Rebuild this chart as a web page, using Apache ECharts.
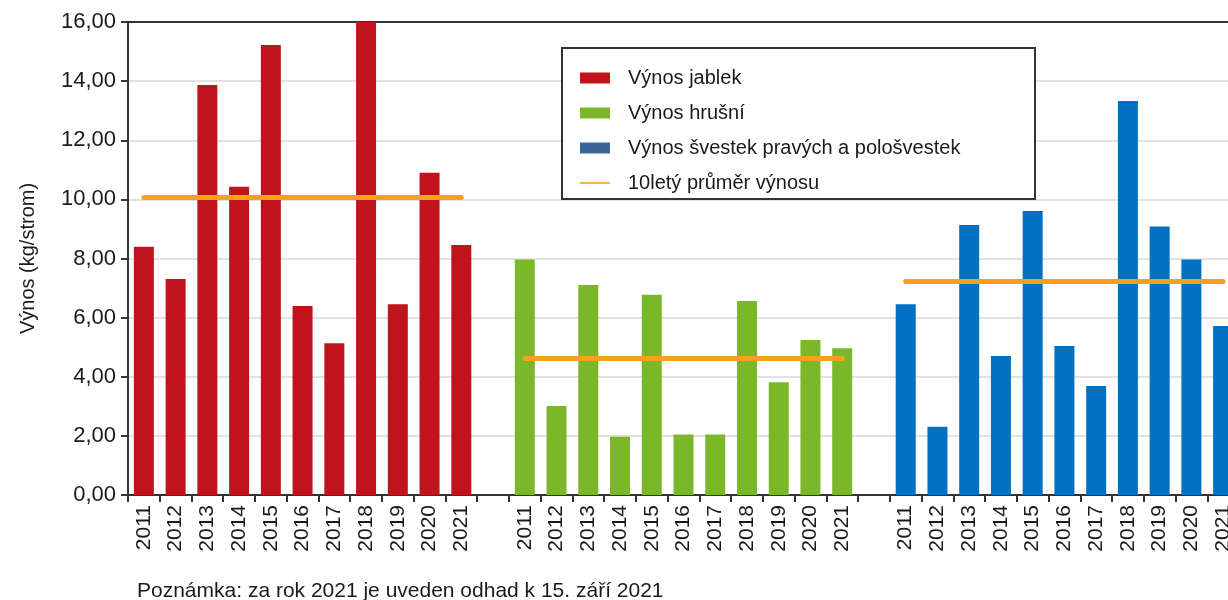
<!DOCTYPE html>
<html lang="cs">
<head>
    <meta charset="UTF-8">
    <title>Výnos ovoce</title>
    <script src="https://cdn.jsdelivr.net/npm/echarts@6/dist/echarts.min.js"></script>
    <style>
        html, body { margin: 0; padding: 0; background: #fff; }
        #chart { width: 1228px; height: 600px; }
    </style>
</head>
<body>
<div id="chart"></div>

<script>
    // roky a hodnoty (kg/strom)
    var years = ['2011', '2012', '2013', '2014', '2015', '2016', '2017', '2018', '2019', '2020', '2021'];
    var apples = [8.40, 7.31, 13.87, 10.43, 15.22, 6.39, 5.13, 16.00, 6.45, 10.90, 8.46];
    var pears = [7.97, 3.01, 7.10, 1.97, 6.77, 2.05, 2.05, 6.56, 3.81, 5.24, 4.96];
    var plums = [6.45, 2.31, 9.13, 4.70, 9.61, 5.04, 3.69, 13.33, 9.08, 7.97, 5.72];
    var avgApples = 10.06;
    var avgPears = 4.62;
    var avgPlums = 7.22;
    var yTicks = [0, 2, 4, 6, 8, 10, 12, 14, 16];

    var font = '"Liberation Sans", Arial, sans-serif';

    // tri skupiny po 11 letech, mezi nimi prazdna kategorie
    var categories = years.concat(['']).concat(years).concat(['']).concat(years);
    var n = years.length;

    function place(values, group) {
        var out = [];
        for (var i = 0; i < categories.length; i++) out.push(null);
        for (var j = 0; j < values.length; j++) out[group * (n + 1) + j] = values[j];
        return out;
    }
    function flat(v) {
        var arr = [];
        for (var j = 0; j < n; j++) arr.push(v);
        return arr;
    }

    var myChart = echarts.init(document.getElementById('chart'));

    var avgName = '10letý průměr výnosu';
    var avgLine = function (v, g) {
        return {
            name: avgName,
            type: 'line',
            data: place(flat(v), g),
            symbol: 'none',
            connectNulls: false,
            z: 5,
            color: '#F7A01C',
            lineStyle: { color: '#F7A01C', width: 5, cap: 'round' },
            animation: false
        };
    };

    var option = {
        animation: false,
        title: {
            text: 'Poznámka: za rok 2021 je uveden odhad k 15. září 2021',
            left: 132,
            top: 576,
            textStyle: { fontFamily: font, fontSize: 21, fontWeight: 'normal', color: '#1a1a1a' }
        },
        graphic: [{
            type: 'rect',
            z: 3,
            shape: { x: 562, y: 48, width: 473, height: 151 },
            style: { fill: '#fff', stroke: '#333', lineWidth: 2 }
        }],
        legend: {
            orient: 'vertical',
            left: 575,
            top: 63,
            z: 6,
            itemWidth: 30,
            itemHeight: 11,
            itemGap: 15,
            selectedMode: false,
            textStyle: { fontFamily: font, fontSize: 20, color: '#1a1a1a', padding: [0, 0, 0, 13] },
            data: [
                { name: 'Výnos jablek', icon: 'rect', itemStyle: { color: '#C0141C' } },
                { name: 'Výnos hrušní', icon: 'rect', itemStyle: { color: '#7AB829' } },
                { name: 'Výnos švestek pravých a pološvestek', icon: 'rect', itemStyle: { color: '#3A6496' } },
                { name: avgName, icon: 'path://M0,0H30V2H0Z', itemStyle: { color: '#FFB347' } }
            ]
        },
        grid: {
            left: 128,
            width: 1111,
            top: 22,
            height: 473,
            outerBoundsMode: 'none',
            containLabel: false,
            show: true,
            borderColor: '#333',
            borderWidth: 2
        },
        xAxis: {
            type: 'category',
            data: categories,
            axisLine: { lineStyle: { color: '#333', width: 2 } },
            axisTick: { show: true, interval: 0, length: 7, lineStyle: { color: '#333', width: 2 } },
            axisLabel: {
                interval: 0,
                rotate: 90,
                margin: 10,
                fontFamily: font,
                fontSize: 21,
                color: '#1a1a1a'
            },
            splitLine: { show: false }
        },
        yAxis: {
            type: 'value',
            min: yTicks[0],
            max: yTicks[yTicks.length - 1],
            interval: 2,
            name: 'Výnos (kg/strom)',
            nameLocation: 'middle',
            nameGap: 90,
            nameTextStyle: { fontFamily: font, fontSize: 20, color: '#1a1a1a' },
            axisLine: { show: true, lineStyle: { color: '#333', width: 2 } },
            axisTick: { show: true, length: 7, lineStyle: { color: '#333', width: 2 } },
            axisLabel: {
                margin: 12,
                fontFamily: font,
                fontSize: 22,
                color: '#1a1a1a',
                formatter: function (v) { return v.toFixed(2).replace('.', ','); }
            },
            splitLine: {
                showMinLine: false,
                showMaxLine: false,
                lineStyle: { color: '#d9d9d9', width: 1.5 }
            }
        },
        series: [
            {
                name: 'Výnos jablek',
                type: 'bar',
                data: place(apples, 0),
                barWidth: 20,
                barGap: '-100%',
                itemStyle: { color: '#C0141C' }
            },
            {
                name: 'Výnos hrušní',
                type: 'bar',
                data: place(pears, 1),
                barWidth: 20,
                barGap: '-100%',
                itemStyle: { color: '#7AB829' }
            },
            {
                name: 'Výnos švestek pravých a pološvestek',
                type: 'bar',
                data: place(plums, 2),
                barWidth: 20,
                barGap: '-100%',
                itemStyle: { color: '#0070C0' }
            },
            avgLine(avgApples, 0),
            avgLine(avgPears, 1),
            avgLine(avgPlums, 2)
        ]
    };

    myChart.setOption(option);
</script>
</body>
</html>
